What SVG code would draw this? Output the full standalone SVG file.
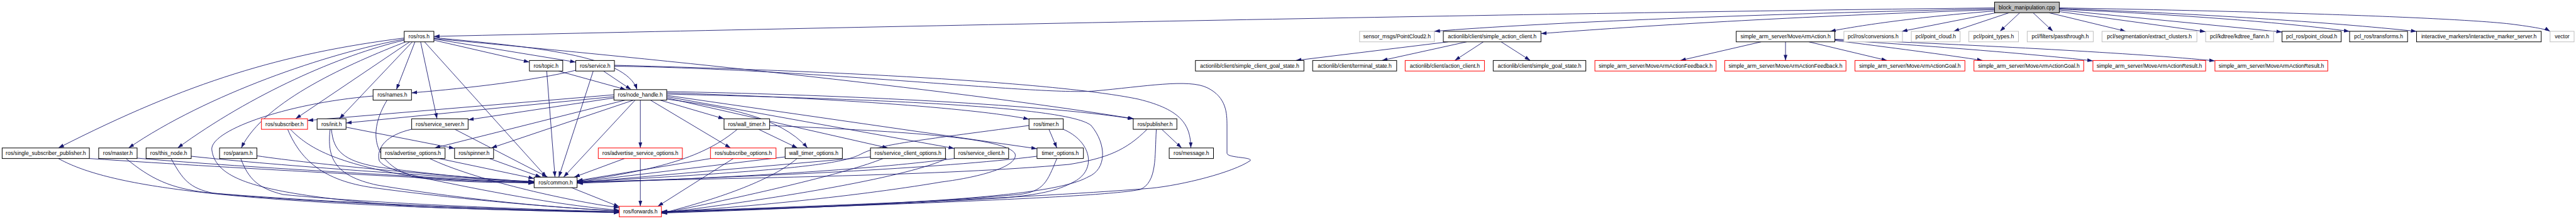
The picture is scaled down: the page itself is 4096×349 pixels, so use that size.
<svg xmlns="http://www.w3.org/2000/svg" width="4096" height="349" viewBox="0 0 4096 349">
<style>
rect{fill:#fff;stroke-width:1}
.b{stroke:#000}
.r{stroke:#ff0000}
.g{stroke:#bfbfbf}
.root{fill:#bfbfbf;stroke:#000}
text{font-family:"Liberation Sans",Arial,sans-serif;font-size:8.6px;text-anchor:middle;fill:#000}
#edges path{fill:none;stroke:#191970;stroke-width:0.9;marker-end:url(#a)}
</style>
<defs>
<marker id="a" markerWidth="9" markerHeight="6" refX="9" refY="3" orient="auto" markerUnits="userSpaceOnUse"><path d="M0,0 L9,3 L0,6 z" fill="#191970" stroke="none"/></marker>
</defs>
<rect x="0" y="0" width="4096" height="349" style="fill:#fff;stroke:none"/>
<g id="edges">
<path d="M642.7,60.6 C450,85 300,130 92.8,235.8"/>
<path d="M642.7,62.4 C520,85 330,150 204.5,235.8"/>
<path d="M642.7,64 C540,88 400,150 282.5,235.8"/>
<path d="M645,66.7 C560,100 420,160 383.7,235.8"/>
<path d="M651.4,66.7 L470,189.3"/>
<path d="M655.6,66.7 L539.6,189.3"/>
<path d="M659.8,66.7 L630.3,142.8"/>
<path d="M668.8,66.7 L694.9,189.3"/>
<path d="M675,66.7 L869,282.3"/>
<path d="M689.9,64 L841.8,99"/>
<path d="M689.9,62 L915.5,99"/>
<path d="M689.9,60 C850,75 995,88 1013,142.8"/>
<path d="M689.9,61.5 C1000,90 1500,140 1803,189.3"/>
<path d="M888,113.2 L995,142.8"/>
<path d="M869.3,113.2 L882.5,282.3"/>
<path d="M915.5,112 C850,128 750,140 654.3,148"/>
<path d="M959.4,113.2 L1003.5,142.8"/>
<path d="M943.3,113.2 L888.5,282.3"/>
<path d="M977,104 C1400,115 1700,135 1810,158 C1880,175 1893,200 1893.5,235.8"/>
<path d="M977,105.5 C1300,110 1650,152 1740,145 C1820,138 1890,125 1920,140 C1950,155 1951,180 1951,200 L1951,244 C1951,252 1992,250 1988,256 C1960,275 1880,295 1830,300 C1600,318 1250,330 1051.7,337.5"/>
<path d="M615.5,159.6 C585,210 590,260 661,282.8 C720,291 800,291 849.3,291"/>
<path d="M593.2,153 C450,165 330,210 337,240 C345,290 420,310 661,329.6 C800,335 900,337 984.7,338"/>
<path d="M976.2,151 L489,192"/>
<path d="M976.2,154 L550.2,196"/>
<path d="M976.2,156 L744.3,191"/>
<path d="M993.9,159.6 L691,235.8"/>
<path d="M1007.3,159.6 L781.2,235.8"/>
<path d="M1009.9,159.6 L896.1,282.3"/>
<path d="M1018.2,159.6 L1018.2,235.8"/>
<path d="M1034.3,159.6 L1161.7,235.8"/>
<path d="M1049.6,159.6 L1151.2,189.3"/>
<path d="M1060.1,146 C1300,150 1650,165 1802,189.5"/>
<path d="M1060.1,148 C1300,155 1550,172 1636.2,190"/>
<path d="M1060.1,152 L1648.9,237"/>
<path d="M1060.1,154 L1517.3,236.5"/>
<path d="M1060.1,156 L1412,235.8"/>
<path d="M1060.1,158 C1150,170 1240,185 1284,235.8"/>
<path d="M1060.1,150 C1400,158 1700,170 1735,200 C1760,230 1760,270 1730,282 C1680,310 1500,325 1051.7,337"/>
<path d="M1172.3,206.1 C1120,250 1050,270 917.6,289"/>
<path d="M1206.3,206.1 L1268,235.8"/>
<path d="M1223.7,200 C1450,210 1600,220 1614,245 C1620,265 1560,282 1497,290 C1350,315 1150,333 1051.7,338"/>
<path d="M1636.2,200 C1450,225 1400,230 1370,245 C1340,262 1250,272 917.6,290"/>
<path d="M1667.9,206.1 L1680.5,235.8"/>
<path d="M1690.6,206 C1735,225 1745,270 1708,289.5 C1680,305 1650,310 1600,315 C1400,328 1150,335 1051.7,338.5"/>
<path d="M1847.3,206.1 L1878.9,235.8"/>
<path d="M1823.9,206.1 C1790,240 1760,252 1700,262 C1500,280 1200,283 917.6,290"/>
<path d="M1838.6,206.1 C1836,250 1840,290 1813,302 C1750,315 1400,326 1051.7,339"/>
<path d="M1648.9,249 C1500,268 1200,282 917.6,291"/>
<path d="M1680.5,252.6 C1665,290 1660,305 1620,310 C1450,325 1200,335 1051.7,339.5"/>
<path d="M1517.3,252.6 C1400,268 1200,282 917.6,292"/>
<path d="M1505.5,252.6 C1450,280 1250,315 1051.7,339.5"/>
<path d="M1384.1,250 L917.6,291"/>
<path d="M1404,252.6 C1350,275 1200,310 1051.7,340"/>
<path d="M1248.4,250 L917.6,290"/>
<path d="M1267.3,252.6 C1230,285 1150,315 1051.7,340"/>
<path d="M1130,252.6 L917.6,288"/>
<path d="M1166,252.6 L1045.8,328.8"/>
<path d="M993,252.6 L913,282.3"/>
<path d="M1018.2,252.6 L1018.2,328.8"/>
<path d="M778.1,252.6 L860.3,282.3"/>
<path d="M698,252.6 L849.3,284.5"/>
<path d="M683.2,252.6 C750,285 900,320 984.7,331"/>
<path d="M723.3,206.1 L870.8,282.3"/>
<path d="M654.6,206 C615,215 598,235 603,256 C610,268 640,275 680,285 C800,310 900,328 984.7,335"/>
<path d="M461.6,206.1 C490,235 530,260 661,282 C740,290 800,290 849.3,290"/>
<path d="M457.4,206.1 C480,260 520,290 600,300 C750,320 900,332 984.7,336"/>
<path d="M550.2,202.7 L722.8,236.5"/>
<path d="M527,206.1 C530,240 545,256 600,266 C700,280 800,288 849.3,289"/>
<path d="M524.9,206.1 C520,250 530,280 600,295 C750,320 900,332 984.7,336.5"/>
<path d="M142.1,252.6 C400,270 700,285 849.3,292"/>
<path d="M92.8,252.6 C160,290 300,315 661,329.6 C800,335 900,337 984.7,339"/>
<path d="M218,252 C400,268 700,283 849.3,291.5"/>
<path d="M200.3,252.6 C240,285 270,300 330,307 C500,322 800,334 984.7,338.5"/>
<path d="M304,249 C450,265 700,281 849.3,290.5"/>
<path d="M272,252.6 C290,285 300,300 340,308 C500,324 800,334 984.7,338"/>
<path d="M408.5,248.3 C500,262 700,280 849.3,290"/>
<path d="M382.8,252.6 C395,285 410,300 450,310 C600,325 850,334 984.7,337.5"/>
<path d="M908.8,299.1 L984.7,329.5"/>
<path d="M3171.5,12.6 C2500,20 1500,40 689.9,58"/>
<path d="M3171.5,14 C2800,22 2450,36 2280.7,49.9"/>
<path d="M3171.5,15.5 C2850,26 2600,42 2450.2,53.5"/>
<path d="M3171.5,17.5 C3050,27 2960,40 2910,49.9"/>
<path d="M3173.6,20.3 L3024,49.9"/>
<path d="M3194.7,20.3 L3106.2,49.9"/>
<path d="M3211.6,20.3 L3180,49.9"/>
<path d="M3232.7,20.3 L3264.3,49.9"/>
<path d="M3258,20.3 L3380.2,49.9"/>
<path d="M3274.4,18.5 L3507,50.5"/>
<path d="M3274.4,16 L3628.6,51"/>
<path d="M3274.4,14.5 C3500,25 3650,38 3736,50"/>
<path d="M3274.4,13.5 C3500,22 3700,35 3842.5,50"/>
<path d="M3274.4,12.6 C3600,18 3900,28 3990,38 C4030,43 4050,47 4054.8,50"/>
<path d="M2302.6,66.7 L2060.2,96.4"/>
<path d="M2332,66.7 L2197.2,96.4"/>
<path d="M2358.7,66.7 L2313.1,96.4"/>
<path d="M2386.9,66.7 L2433.3,96.4"/>
<path d="M2800.3,66.7 L2671.7,96.4"/>
<path d="M2839.1,66.7 L2839.1,96.4"/>
<path d="M2876.2,66.7 L3000.6,96.4"/>
<path d="M2917.5,64.5 C3000,75 3100,88 3152.6,96.4"/>
<path d="M2917.5,63.5 C3100,75 3250,88 3327.9,97"/>
<path d="M2917.5,62.5 C3150,72 3400,85 3521.9,97"/>
</g>
<g id="n_block"><rect class="root" x="3171.5" y="3.3" width="102.9" height="17"/><text x="3223" y="15">block_manipulation.cpp</text></g>
<g id="n_ros"><rect class="b" x="642.7" y="49.9" width="47.2" height="16.8"/><text x="666.3" y="61.4">ros/ros.h</text></g>
<g id="n_pc2"><rect class="g" x="2161.8" y="49.9" width="118.9" height="16.8"/><text x="2221.2" y="61.4">sensor_msgs/PointCloud2.h</text></g>
<g id="n_sac"><rect class="b" x="2295" y="49.9" width="155.2" height="16.8"/><text x="2372.6" y="61.4">actionlib/client/simple_action_client.h</text></g>
<g id="n_maa"><rect class="b" x="2760.7" y="49.9" width="156.8" height="16.8"/><text x="2839.1" y="61.4">simple_arm_server/MoveArmAction.h</text></g>
<g id="n_conv"><rect class="g" x="2931.9" y="49.9" width="93.1" height="16.8"/><text x="2978.4" y="61.4">pcl/ros/conversions.h</text></g>
<g id="n_pclpc"><rect class="g" x="3039.1" y="49.9" width="77.6" height="16.8"/><text x="3077.9" y="61.4">pcl/point_cloud.h</text></g>
<g id="n_pclpt"><rect class="g" x="3130.6" y="49.9" width="78.9" height="16.8"/><text x="3170" y="61.4">pcl/point_types.h</text></g>
<g id="n_pass"><rect class="g" x="3223.4" y="49.9" width="105" height="16.8"/><text x="3275.9" y="61.4">pcl/filters/passthrough.h</text></g>
<g id="n_extract"><rect class="g" x="3342.3" y="49.9" width="150.9" height="16.8"/><text x="3417.7" y="61.4">pcl/segmentation/extract_clusters.h</text></g>
<g id="n_kdtree"><rect class="g" x="3507.1" y="49.9" width="108" height="16.8"/><text x="3561.1" y="61.4">pcl/kdtree/kdtree_flann.h</text></g>
<g id="n_pclrospc"><rect class="b" x="3628.6" y="49.9" width="94" height="16.8"/><text x="3675.6" y="61.4">pcl_ros/point_cloud.h</text></g>
<g id="n_pclrostf"><rect class="b" x="3736" y="49.9" width="92.2" height="16.8"/><text x="3782.1" y="61.4">pcl_ros/transforms.h</text></g>
<g id="n_ims"><rect class="b" x="3842.5" y="49.9" width="198.2" height="16.8"/><text x="3941.6" y="61.4">interactive_markers/interactive_marker_server.h</text></g>
<g id="n_vector"><rect class="g" x="4054.8" y="49.9" width="38.2" height="16.8"/><text x="4073.9" y="61.4">vector</text></g>
<g id="n_topic"><rect class="b" x="841.8" y="96.4" width="53" height="16.8"/><text x="868.3" y="107.9">ros/topic.h</text></g>
<g id="n_service"><rect class="b" x="915.5" y="96.4" width="61.5" height="16.8"/><text x="946.3" y="107.9">ros/service.h</text></g>
<g id="n_scgs"><rect class="b" x="1900.8" y="96.4" width="172.5" height="16.8"/><text x="1987" y="107.9">actionlib/client/simple_client_goal_state.h</text></g>
<g id="n_ts"><rect class="b" x="2087.2" y="96.4" width="133.6" height="16.8"/><text x="2154" y="107.9">actionlib/client/terminal_state.h</text></g>
<g id="n_ac"><rect class="r" x="2234.3" y="96.4" width="126.1" height="16.8"/><text x="2297.4" y="107.9">actionlib/client/action_client.h</text></g>
<g id="n_sgs"><rect class="b" x="2374.3" y="96.4" width="147.3" height="16.8"/><text x="2448" y="107.9">actionlib/client/simple_goal_state.h</text></g>
<g id="n_fb1"><rect class="r" x="2536" y="96.4" width="192.7" height="16.8"/><text x="2632.4" y="107.9">simple_arm_server/MoveArmActionFeedback.h</text></g>
<g id="n_fb2"><rect class="r" x="2742.5" y="96.4" width="192.7" height="16.8"/><text x="2838.9" y="107.9">simple_arm_server/MoveArmActionFeedback.h</text></g>
<g id="n_goal1"><rect class="r" x="2949.5" y="96.4" width="174.8" height="16.8"/><text x="3036.9" y="107.9">simple_arm_server/MoveArmActionGoal.h</text></g>
<g id="n_goal2"><rect class="r" x="3138.7" y="96.4" width="174.5" height="16.8"/><text x="3226" y="107.9">simple_arm_server/MoveArmActionGoal.h</text></g>
<g id="n_res1"><rect class="r" x="3327.9" y="96.4" width="179.2" height="16.8"/><text x="3417.5" y="107.9">simple_arm_server/MoveArmActionResult.h</text></g>
<g id="n_res2"><rect class="r" x="3521.9" y="96.4" width="179.4" height="16.8"/><text x="3611.6" y="107.9">simple_arm_server/MoveArmActionResult.h</text></g>
<g id="n_names"><rect class="b" x="593.2" y="142.8" width="61.1" height="16.8"/><text x="623.8" y="154.3">ros/names.h</text></g>
<g id="n_nh"><rect class="b" x="976.2" y="142.8" width="83.9" height="16.8"/><text x="1018.2" y="154.3">ros/node_handle.h</text></g>
<g id="n_subscriber"><rect class="r" x="415.7" y="189.3" width="73.3" height="16.8"/><text x="452.4" y="200.8">ros/subscriber.h</text></g>
<g id="n_init"><rect class="b" x="504.2" y="189.3" width="46" height="16.8"/><text x="527.2" y="200.8">ros/init.h</text></g>
<g id="n_ss"><rect class="b" x="654.6" y="189.3" width="89.7" height="16.8"/><text x="699.5" y="200.8">ros/service_server.h</text></g>
<g id="n_wt"><rect class="b" x="1151.2" y="189.3" width="72.5" height="16.8"/><text x="1187.5" y="200.8">ros/wall_timer.h</text></g>
<g id="n_timer"><rect class="b" x="1636.2" y="189.3" width="54.4" height="16.8"/><text x="1663.4" y="200.8">ros/timer.h</text></g>
<g id="n_pub"><rect class="b" x="1801.9" y="189.3" width="69.4" height="16.8"/><text x="1836.6" y="200.8">ros/publisher.h</text></g>
<g id="n_ssp"><rect class="b" x="3.4" y="235.8" width="138.7" height="16.8"/><text x="72.8" y="247.3">ros/single_subscriber_publisher.h</text></g>
<g id="n_master"><rect class="b" x="156.9" y="235.8" width="61.1" height="16.8"/><text x="187.5" y="247.3">ros/master.h</text></g>
<g id="n_thisnode"><rect class="b" x="232.3" y="235.8" width="71.7" height="16.8"/><text x="268.2" y="247.3">ros/this_node.h</text></g>
<g id="n_param"><rect class="b" x="349.1" y="235.8" width="59.4" height="16.8"/><text x="378.8" y="247.3">ros/param.h</text></g>
<g id="n_ao"><rect class="b" x="605.6" y="235.8" width="102.1" height="16.8"/><text x="656.7" y="247.3">ros/advertise_options.h</text></g>
<g id="n_spinner"><rect class="b" x="722.8" y="235.8" width="62" height="16.8"/><text x="753.8" y="247.3">ros/spinner.h</text></g>
<g id="n_aso"><rect class="r" x="951.3" y="235.8" width="133.7" height="16.8"/><text x="1018.2" y="247.3">ros/advertise_service_options.h</text></g>
<g id="n_so"><rect class="r" x="1129.7" y="235.8" width="104.2" height="16.8"/><text x="1181.8" y="247.3">ros/subscribe_options.h</text></g>
<g id="n_wto"><rect class="b" x="1248.4" y="235.8" width="91" height="16.8"/><text x="1293.9" y="247.3">wall_timer_options.h</text></g>
<g id="n_sco"><rect class="b" x="1384.1" y="235.8" width="119.3" height="16.8"/><text x="1443.8" y="247.3">ros/service_client_options.h</text></g>
<g id="n_sc"><rect class="b" x="1517.3" y="235.8" width="86.5" height="16.8"/><text x="1560.6" y="247.3">ros/service_client.h</text></g>
<g id="n_to"><rect class="b" x="1648.9" y="235.8" width="73.8" height="16.8"/><text x="1685.8" y="247.3">timer_options.h</text></g>
<g id="n_msg"><rect class="b" x="1859.1" y="235.8" width="70.4" height="16.8"/><text x="1894.3" y="247.3">ros/message.h</text></g>
<g id="n_common"><rect class="b" x="849.3" y="282.3" width="68.3" height="16.8"/><text x="883.5" y="293.8">ros/common.h</text></g>
<g id="n_fwd"><rect class="r" x="984.7" y="328.8" width="67" height="16.8"/><text x="1018.2" y="340.3">ros/forwards.h</text></g>
</svg>
